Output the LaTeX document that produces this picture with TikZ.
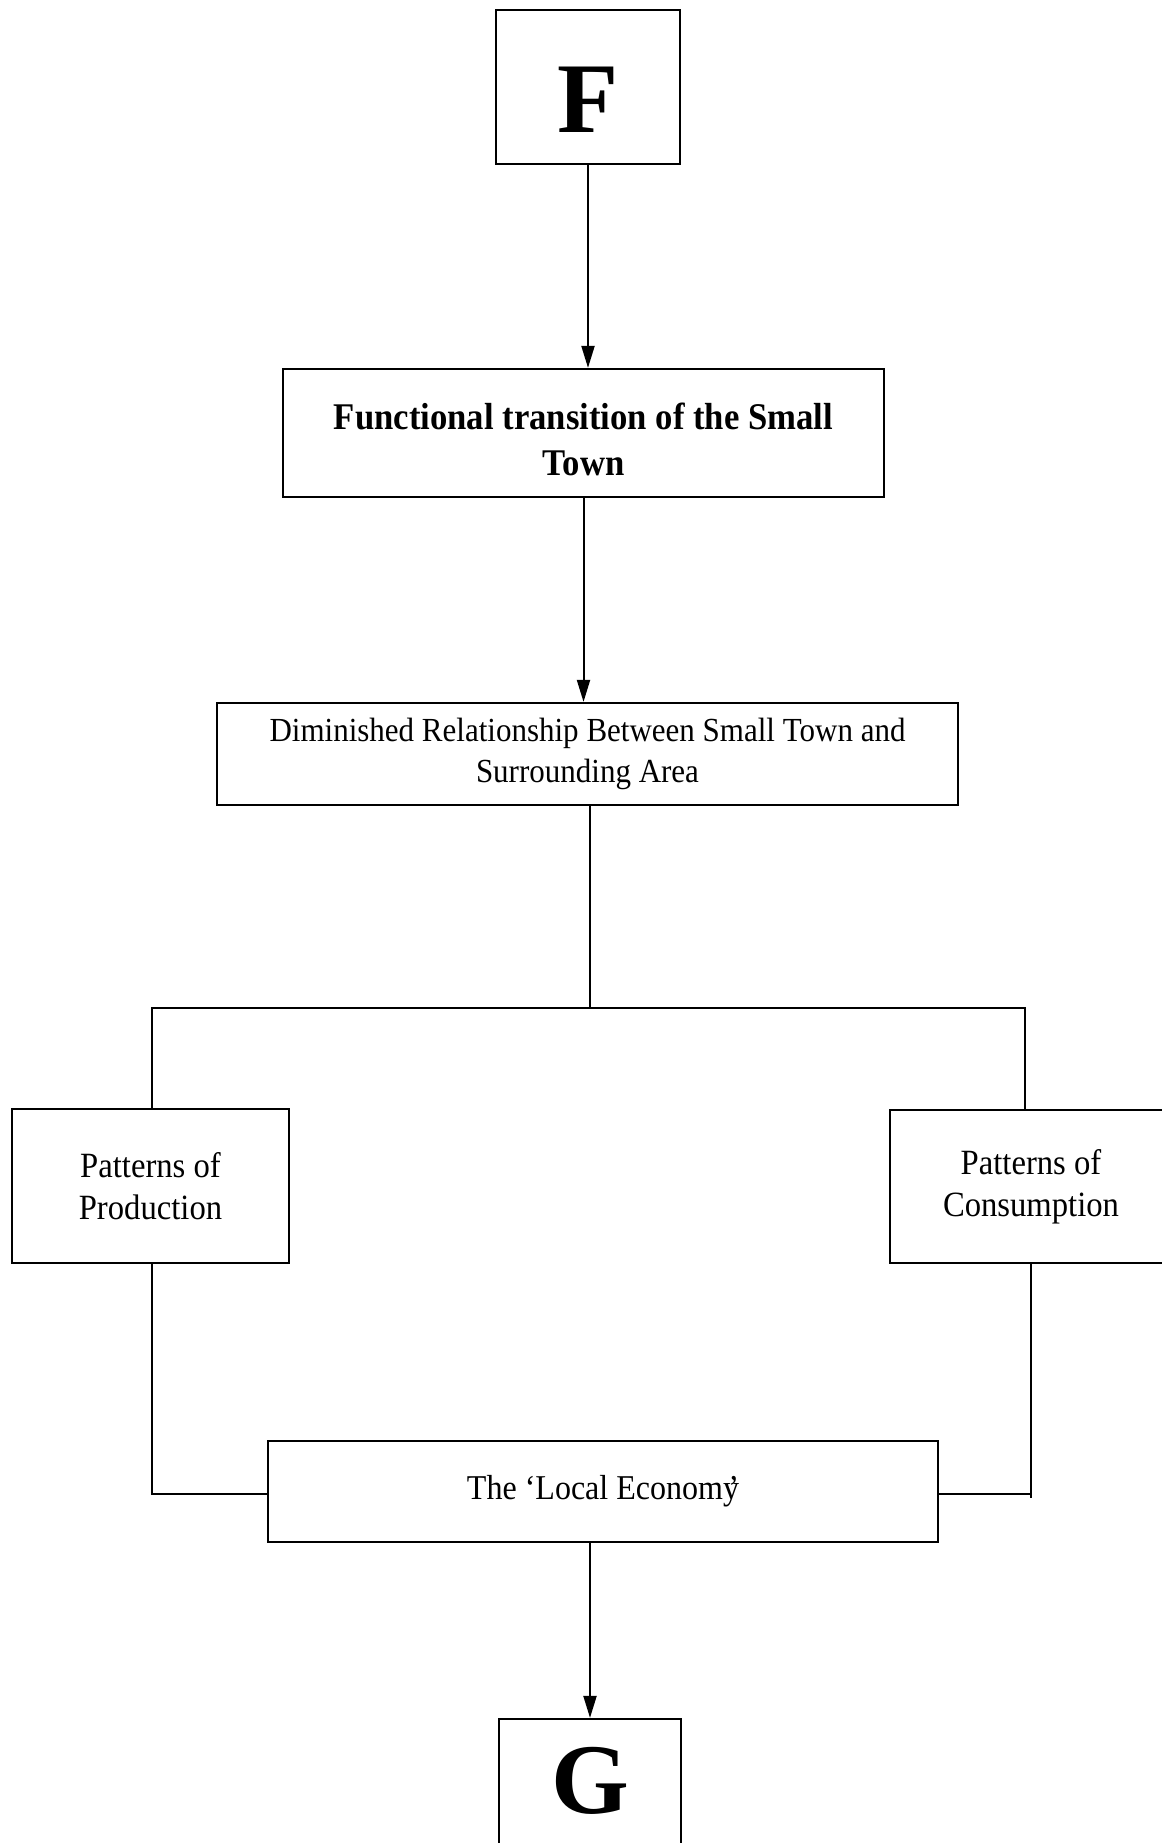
\documentclass[tikz,border=0pt]{standalone}
\usepackage{fontspec}
\setmainfont{Liberation Serif}
\newfontfamily\narrowserif{Liberation Serif}[FakeStretch=0.92]
\usetikzlibrary{arrows.meta}
\begin{document}
\begin{tikzpicture}[x=1pt,y=-1pt,
  box/.style={draw, line width=2.2pt, inner sep=0pt, align=center},
  conn/.style={line width=2pt},
  arr/.style={conn, -{Triangle[length=22pt,width=13pt]}},
  big/.style={font=\bfseries\fontsize{100}{100}\selectfont},
  head/.style={font=\narrowserif\bfseries\fontsize{37.7}{46}\selectfont},
  lab/.style={font=\narrowserif\fontsize{33.7}{41}\selectfont},
  side/.style={font=\narrowserif\fontsize{35.5}{42}\selectfont}]
\useasboundingbox (0,0) rectangle (1161,1843);

% boxes
\node[box, big, minimum width=184, minimum height=154] (F) at (588,87)
  {\raisebox{-46pt}[0pt][0pt]{F}};
\node[box, head, minimum width=601, minimum height=128] (Func) at (583.5,433)
  {\raisebox{-17pt}[0pt][0pt]{\begin{tabular}{@{}c@{}}Functional transition of the Small\\Town\end{tabular}}};
\node[box, lab, minimum width=741, minimum height=102] (Dim) at (587.5,754)
  {Diminished Relationship Between Small Town and\\Surrounding Area};
\node[box, side, minimum width=277, minimum height=154] (Prod) at (150.5,1186)
  {Patterns of\\Production};
\node[box, side, minimum width=282, minimum height=153] (Cons) at (1031,1186.5)
  {Patterns of\\Consumption};
\node[box, lab, font=\narrowserif\fontsize{34.8}{41}\selectfont, minimum width=670, minimum height=101] (Loc) at (603,1491.5)
  {The ‘Local Economy\llap{’}};
\node[box, big, minimum width=182, minimum height=141] (G) at (590,1789.5)
  {\raisebox{-23.5pt}[0pt][0pt]{G}};

% branch points
\coordinate (jt) at (590,1008);
\coordinate (jl) at (152,1008);
\coordinate (jr) at (1025,1008);
\coordinate (bl) at (152,1494);
\coordinate (br) at (1031,1494);
\coordinate (brend) at (1031,1498);

% connectors
\draw[arr] (F.south) -- (F.south |- Func.north);
\draw[arr] (Func.south) -- (Func.south |- Dim.north);
\draw[conn] (Dim.south -| jt) -- (jt);
\draw[conn] (Prod.north -| jl) -- (jl) -- (jr) -- (Cons.north -| jr);
\draw[conn] (Prod.south -| bl) -- (bl) -- (Loc.west |- bl);
\draw[conn] (Cons.south -| br) -- (brend);
\draw[conn] (br) -- (Loc.east |- br);
\draw[arr] (Loc.south -| G.north) -- (G.north);
\end{tikzpicture}
\end{document}
